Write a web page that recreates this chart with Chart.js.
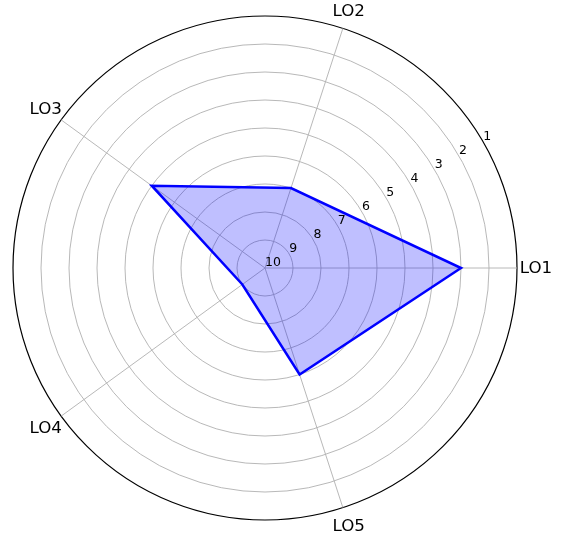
<!DOCTYPE html>
<html>
<head>
<meta charset="utf-8">
<script src="https://cdn.jsdelivr.net/npm/chart.js@4"></script>
<style>
  body { margin: 0; background: #fff; }
  canvas { display: block; }
</style>
</head>
<body>
<canvas id="radarChart" width="561" height="539"></canvas>
<script>
const categories = ["LO1", "LO2", "LO3", "LO4", "LO5"];
const scores = [3, 7, 5, 9, 6];
const tickValues = [1, 2, 3, 4, 5, 6, 7, 8, 9, 10];

// chart.js goes clockwise, the reference goes counterclockwise from LO1
const order = [0, 4, 3, 2, 1];
const chartLabels = order.map(i => categories[i]);
const chartScores = order.map(i => scores[i]);

const labelPlugin = {
  id: "polarLabels",
  afterDraw(chart) {
    const scale = chart.scales.r;
    const ctx = chart.ctx;
    ctx.save();
    ctx.fillStyle = "#000";

    // radial tick labels along the 30 degree line
    ctx.font = "12.5px 'DejaVu Sans'";
    ctx.textAlign = "left";
    ctx.textBaseline = "alphabetic";
    const a = 30 * Math.PI / 180;
    tickValues.forEach(v => {
      const r = scale.getDistanceFromCenterForValue(v);
      const x = scale.xCenter + r * Math.cos(a);
      const y = scale.yCenter - r * Math.sin(a);
      ctx.fillText(String(v), x, y - 2);
    });

    // category labels just outside the rim
    ctx.font = "16.7px 'DejaVu Sans'";
    ctx.textAlign = "center";
    ctx.textBaseline = "middle";
    chartLabels.forEach((lab, i) => {
      const p = scale.getPointPosition(i, scale.drawingArea + 19);
      ctx.fillText(lab, p.x, p.y + 1);
    });
    ctx.restore();
  }
};

const ctx = document.getElementById("radarChart").getContext("2d");
const radarChart = new Chart(ctx, {
  type: "radar",
  data: {
    labels: chartLabels,
    datasets: [{
      data: chartScores,
      fill: "start",
      backgroundColor: "rgba(0, 0, 255, 0.25)",
      borderColor: "#0000ff",
      borderWidth: 2.5,
      pointRadius: 0,
      tension: 0
    }]
  },
  options: {
    responsive: false,
    animation: false,
    layout: { padding: { left: 13, top: 16, right: 43, bottom: 19 } },
    plugins: { legend: { display: false }, tooltip: { enabled: false } },
    scales: {
      r: {
        min: 1,
        max: 10,
        reverse: true,
        startAngle: 90,
        ticks: { stepSize: 1, display: false },
        pointLabels: { display: false },
        grid: {
          circular: true,
          color: c => c.tick && c.tick.value === 1 ? "#000" : "#b0b0b0",
          lineWidth: c => c.tick && c.tick.value === 1 ? 1.2 : 0.9
        },
        angleLines: { color: "#b0b0b0", lineWidth: 0.9 }
      }
    }
  },
  plugins: [labelPlugin]
});
</script>
</body>
</html>
